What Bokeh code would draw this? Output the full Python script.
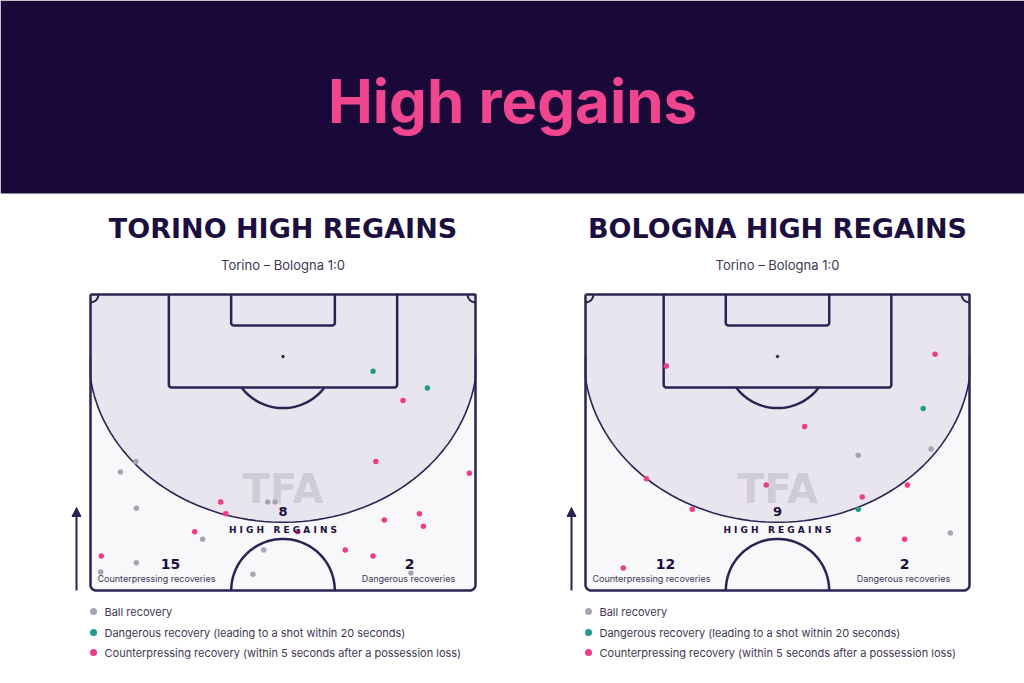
import numpy as np
from bokeh.plotting import figure
from bokeh.models import Range1d, Arrow, NormalHead
from bokeh.embed import file_html
from bokeh.resources import INLINE
from bokeh.core.properties import value

# ---------------- data ----------------
main_title = "High regains"
panel_titles = ["TORINO HIGH REGAINS", "BOLOGNA HIGH REGAINS"]
match_label = "Torino – Bologna 1:0"
high_regains = [8, 9]
counterpressing = [15, 12]
dangerous = [2, 2]
legend_labels = ["Ball recovery",
                 "Dangerous recovery (leading to a shot within 20 seconds)",
                 "Counterpressing recovery (within 5 seconds after a possession loss)"]

# pitch coordinates in metres: x across the pitch (0-68), y from opponent goal line (0-52.5)
torino_ball_x = [8.0, 5.3, 8.1, 31.3, 32.6, 19.8, 30.6, 8.1, 28.7, 56.6, 1.8]
torino_ball_y = [29.6, 31.5, 37.9, 36.8, 36.8, 43.4, 45.3, 47.6, 49.6, 49.4, 49.2]
torino_danger_x = [49.9, 59.5]
torino_danger_y = [13.6, 16.6]
torino_counter_x = [55.2, 50.4, 66.9, 23.0, 23.9, 58.1, 51.9, 58.8, 18.4, 36.6, 45.0, 49.9, 1.9]
torino_counter_y = [18.8, 29.6, 31.7, 36.8, 38.9, 38.9, 40.0, 41.1, 42.1, 42.1, 45.3, 46.4, 46.4]

bologna_ball_x = [48.3, 61.2, 64.6]
bologna_ball_y = [28.5, 27.4, 42.3]
bologna_danger_x = [59.8, 48.3]
bologna_danger_y = [20.2, 38.1]
bologna_counter_x = [14.3, 61.9, 38.8, 10.8, 32.0, 57.0, 49.0, 18.9, 48.3, 56.5, 6.7]
bologna_counter_y = [12.7, 10.6, 23.4, 32.7, 33.8, 33.8, 35.9, 38.1, 43.4, 43.4, 48.5]

# ---------------- style ----------------
NAVY = "#1c0f3f"
LINE = "#2d2352"
PINK_TITLE = "#f0458f"
HEADER = "#1a0838"
PITCH_FILL = "#f8f8fb"
ZONE_FILL = "#e8e5ee"
GRAY = "#a9a4b5"
TEAL = "#1f9b8b"
PINK = "#ee3d87"
SUB = "#3f3756"

p = figure(width=1024, height=683, x_range=Range1d(0, 1024), y_range=Range1d(683, 0),
           output_backend="svg", toolbar_location=None, min_border=0)
p.axis.visible = False
p.grid.visible = False
p.outline_line_color = None
p.background_fill_color = "white"
p.border_fill_color = "white"

# header band
p.quad(left=0, right=1024, top=0, bottom=193, fill_color=HEADER, line_color=None)
p.text(x=[512], y=[100], text=[main_title], text_color=PINK_TITLE, text_align="center",
       text_baseline="middle", text_font=value("Inter"), text_font_style="bold",
       text_font_size="60px")

PITCH_L, PITCH_H = 68.0, 52.5
panels = [
    dict(x0=90, w=385, cx=282.5, ball=(torino_ball_x, torino_ball_y),
         danger=(torino_danger_x, torino_danger_y), counter=(torino_counter_x, torino_counter_y)),
    dict(x0=585, w=384, cx=777, ball=(bologna_ball_x, bologna_ball_y),
         danger=(bologna_danger_x, bologna_danger_y), counter=(bologna_counter_x, bologna_counter_y)),
]
Y0, H = 294, 296


def arc(cx, cy, r, t0, t1, n=40, ry=None):
    t = np.linspace(t0, t1, n)
    ry = r if ry is None else ry
    return list(cx + r * np.cos(t)), list(cy + ry * np.sin(t))


def rounded_box(x0, x1, y1, r):
    xs, ys = [x0], [0.0]
    ax, ay = arc(x0 + r, y1 - r, r, np.pi, np.pi / 2, 12)
    xs += ax; ys += ay
    bx, by = arc(x1 - r, y1 - r, r, np.pi / 2, 0, 12)
    xs += bx; ys += by
    xs.append(x1); ys.append(0.0)
    return xs, ys


for i, pn in enumerate(panels):
    sx = pn["w"] / PITCH_L
    sy = H / PITCH_H

    def T(xs, ys):
        return [pn["x0"] + x * sx for x in xs], [Y0 + y * sy for y in ys]

    # pitch fill + outline
    ax, ay = rounded_box(0.0, PITCH_L, PITCH_H, 1.0)
    ox, oy = ax + [0.0], ay + [0.0]
    X, Y = T(ox, oy)
    p.patch(X, Y, fill_color=PITCH_FILL, line_color=None)

    # high-regain zone
    ex, ey = arc(34.0, 11.0, 34.3, 0, np.pi, 80, ry=29.4)
    ex = list(np.clip(ex, 0, PITCH_L))
    zx = [0.0, PITCH_L] + ex
    zy = [0.0, 0.0] + ey
    X, Y = T(zx, zy)
    p.patch(X, Y, fill_color=ZONE_FILL, line_color=None)
    X, Y = T(ex, ey)
    p.line(X, Y, line_color=LINE, line_width=1.6)

    # outline
    X, Y = T(ox, oy)
    p.line(X, Y, line_color=LINE, line_width=2.5)

    # penalty box & goal area
    bx, by = rounded_box(13.84, 54.16, 16.5, 0.5)
    X, Y = T(bx, by)
    p.line(X, Y, line_color=LINE, line_width=2.5)
    gx, gy = rounded_box(24.84, 43.16, 5.5, 0.5)
    X, Y = T(gx, gy)
    p.line(X, Y, line_color=LINE, line_width=2.5)
    # penalty arc
    t0 = np.arcsin(5.5 / 9.15)
    axs, ays = arc(34.0, 11.0, 9.15, t0, np.pi - t0, 40)
    X, Y = T(axs, ays)
    p.line(X, Y, line_color=LINE, line_width=2.5)
    # penalty spot
    X, Y = T([34.0], [11.0])
    p.scatter(X, Y, size=2.5, color=LINE)
    # centre circle
    cxs, cys = arc(34.0, PITCH_H, 9.15, np.pi, 2 * np.pi, 50)
    X, Y = T(cxs, cys)
    p.line(X, Y, line_color=LINE, line_width=2.5)
    # corner arcs
    for (ccx, ta, tb) in [(0.0, 0, np.pi / 2), (PITCH_L, np.pi / 2, np.pi)]:
        kx, ky = arc(ccx, 0.0, 1.4, ta, tb, 12)
        X, Y = T(kx, ky)
        p.line(X, Y, line_color=LINE, line_width=2)

    cx = pn["cx"]
    # watermark
    p.text(x=[cx], y=[488], text=["TFA"], text_color="#cdc9d4", text_alpha=0.9,
           text_align="center", text_baseline="middle", text_font=value("DejaVu Sans"),
           text_font_style="bold", text_font_size="40px")

    # points
    for (xs_, ys_), col in [(pn["ball"], GRAY), (pn["danger"], TEAL), (pn["counter"], PINK)]:
        X, Y = T(xs_, ys_)
        p.scatter(X, Y, size=5.5, color=col, line_color=None)

    # titles
    p.text(x=[cx], y=[228], text=[panel_titles[i]], text_color=NAVY, text_align="center",
           text_baseline="middle", text_font=value("DejaVu Sans"), text_font_style="bold",
           text_font_size="27px")
    p.text(x=[cx], y=[264], text=[match_label], text_color=SUB, text_align="center",
           text_baseline="middle", text_font=value("Inter"), text_font_size="13px")

    # numbers
    p.text(x=[cx], y=[511], text=[str(high_regains[i])], text_color=NAVY, text_align="center",
           text_baseline="middle", text_font=value("DejaVu Sans"), text_font_style="bold",
           text_font_size="13px")
    p.text(x=[cx], y=[529], text=["H I G H\u00a0\u00a0\u00a0R E G A I N S"], text_color=NAVY,
           text_align="center", text_baseline="middle", text_font=value("DejaVu Sans"),
           text_font_style="bold", text_font_size="9px")
    lx = pn["x0"] + 66
    rx = pn["x0"] + 318
    p.text(x=[lx + 14, rx + 1], y=[563, 563], text=[str(counterpressing[i]), str(dangerous[i])],
           text_color=NAVY, text_align="center", text_baseline="middle",
           text_font=value("DejaVu Sans"), text_font_style="bold", text_font_size="14px")
    p.text(x=[lx, rx], y=[578, 578], text=["Counterpressing recoveries", "Dangerous recoveries"],
           text_color=SUB, text_align="center", text_baseline="middle",
           text_font=value("Inter"), text_font_size="9px")

    # arrow
    ax0 = pn["x0"] - 14
    p.add_layout(Arrow(end=NormalHead(size=9, fill_color=LINE, line_color=LINE),
                       x_start=ax0, y_start=590, x_end=ax0, y_end=507,
                       line_color=LINE, line_width=2))

    # legend
    lgx = pn["x0"] + 3
    p.scatter([lgx] * 3, [611, 632, 652], size=7, color=[GRAY, TEAL, PINK], line_color=None)
    p.text(x=[lgx + 11] * 3, y=[611, 632, 652], text=legend_labels, text_color=SUB,
           text_align="left", text_baseline="middle", text_font=value("Inter"),
           text_font_size="11px")

open("out.html", "w").write(file_html(p, INLINE))
